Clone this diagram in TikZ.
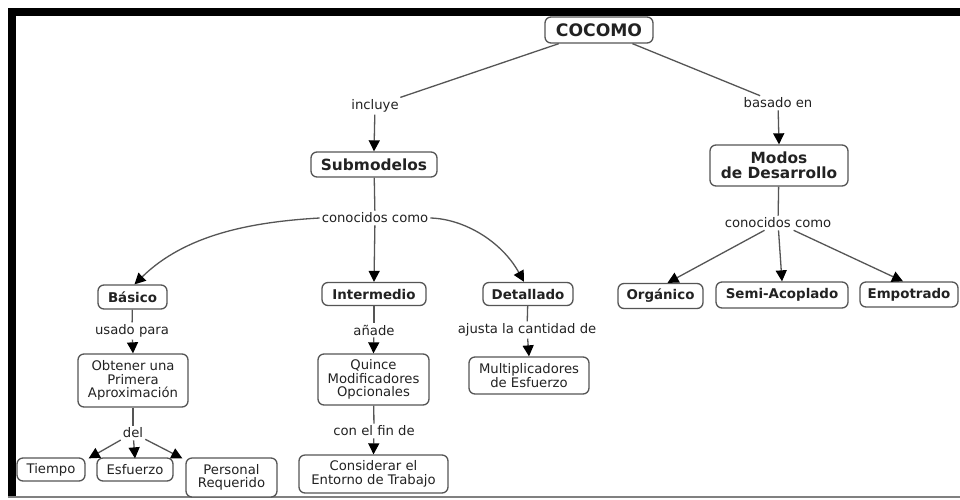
\documentclass[tikz,border=0pt]{standalone}
\usepackage{fontspec}
\setmainfont{DejaVu Sans}
\usetikzlibrary{arrows.meta}
\definecolor{ink}{HTML}{222222}
\definecolor{edge}{HTML}{555555}
\begin{document}
\begin{tikzpicture}[x=1pt,y=-1pt,
  concept/.style={draw=edge, line width=1.3pt, rounded corners=6pt, fill=white,
    text=ink, align=center, inner sep=0pt, font=\fontsize{13.2}{13.6}\selectfont},
  keybox/.style={concept, font=\bfseries\fontsize{13.4}{15}\selectfont},
  midbox/.style={concept, font=\bfseries\fontsize{15.4}{15.2}\selectfont},
  topbox/.style={concept, font=\bfseries\fontsize{17.2}{18}\selectfont},
  linkp/.style={fill=white, text=ink, inner sep=2pt, font=\fontsize{13.2}{13.6}\selectfont},
  conn/.style={draw=edge, line width=1.3pt},
  arr/.style={conn, -{Triangle[width=11pt,length=11pt,black]}}
]
% page and frame
\useasboundingbox (0,0) rectangle (960,499);
\fill[white] (0,0) rectangle (960,499);
\fill[black] (8,8) rectangle (960,16);
\fill[black] (8,8) rectangle (16,497);
\draw[gray, line width=1.5pt] (8,497) -- (960,497);

% concepts
\node[topbox, minimum width=108pt, minimum height=26pt] (cocomo) at (599,30) {COCOMO};
\node[midbox, minimum width=126pt, minimum height=25pt] (sub) at (374,164.5) {Submodelos};
\node[midbox, minimum width=138pt, minimum height=41pt] (modos) at (779,165.5) {Modos\\de Desarrollo};
\node[keybox, minimum width=69pt, minimum height=24pt] (basico) at (132.5,297) {Básico};
\node[keybox, minimum width=104pt, minimum height=23pt] (inter) at (374,294) {Intermedio};
\node[keybox, minimum width=90pt, minimum height=23pt] (detal) at (528,294) {Detallado};
\node[keybox, minimum width=85pt, minimum height=25pt] (org) at (660.5,296) {Orgánico};
\node[keybox, minimum width=132pt, minimum height=26pt] (semi) at (782,295) {Semi-Acoplado};
\node[keybox, minimum width=98pt, minimum height=25pt] (empo) at (909,294.5) {Empotrado};
\node[concept, minimum width=110pt, minimum height=53pt] (obt) at (133,380.5) {Obtener una\\Primera\\Aproximación};
\node[concept, minimum width=111pt, minimum height=51pt] (quince) at (373.5,379.5) {Quince\\Modificadores\\Opcionales};
\node[concept, minimum width=120pt, minimum height=37pt] (multi) at (529,375.5) {Multiplicadores\\de Esfuerzo};
\node[concept, minimum width=68pt, minimum height=23pt] (tiempo) at (51,469.5) {Tiempo};
\node[concept, minimum width=76pt, minimum height=23pt] (esf) at (135,469.5) {Esfuerzo};
\node[concept, minimum width=91pt, minimum height=39pt] (pers) at (231.5,477.5) {Personal\\Requerido};
\node[concept, minimum width=149pt, minimum height=38pt] (consid) at (373.5,474) {Considerar el\\Entorno de Trabajo};

% linking phrases
\node[linkp] (incl) at (375,106) {incluye};
\node[linkp] (basado) at (778,103) {basado en};
\node[linkp] (cc1) at (375,218) {conocidos como};
\node[linkp] (cc2) at (778,223) {conocidos como};
\node[linkp] (usado) at (132,331) {usado para};
\node[linkp] (anade) at (374,330) {añade};
\node[linkp] (ajusta) at (527,330) {ajusta la cantidad de};
\node[linkp] (del) at (133,433) {del};
\node[linkp] (conf) at (374,431) {con el fin de};

% connectors
\draw[conn] (cocomo) -- (incl);
\draw[arr] (incl) -- (sub.north);
\draw[conn] (cocomo) -- (basado);
\draw[arr] (basado) -- (modos.north);

\draw[conn] (sub) -- (cc1);
\draw[arr] (cc1.west) .. controls (250,222) and (185,235) .. ([xshift=2pt]basico.north);
\draw[arr] (cc1) -- (inter.north);
\draw[arr] (cc1.east) .. controls (465,219) and (502,242) .. ([xshift=-4pt]detal.north);

\draw[conn] (modos) -- (cc2);
\draw[arr] (cc2) -- ([xshift=7pt]org.north);
\draw[arr] (cc2) -- (semi.north);
\draw[arr] (cc2) -- ([xshift=-6pt]empo.north);

\draw[conn] (basico) -- (usado);
\draw[arr] (usado) -- (obt.north);
\draw[conn] (obt) -- (del);
\draw[arr] (del) -- ([xshift=3pt,yshift=-1pt]tiempo.north east);
\draw[arr] (del) -- ([yshift=-1pt]esf.north);
\draw[arr] (del) -- ([xshift=-3pt,yshift=-1pt]pers.north west);

\draw[conn] (inter) -- (anade);
\draw[arr] (anade) -- (quince.north);
\draw[conn] (quince) -- (conf);
\draw[arr] (conf) -- (consid.north);

\draw[conn] (detal) -- (ajusta);
\draw[arr] (ajusta) -- (multi.north);
\end{tikzpicture}
\end{document}
